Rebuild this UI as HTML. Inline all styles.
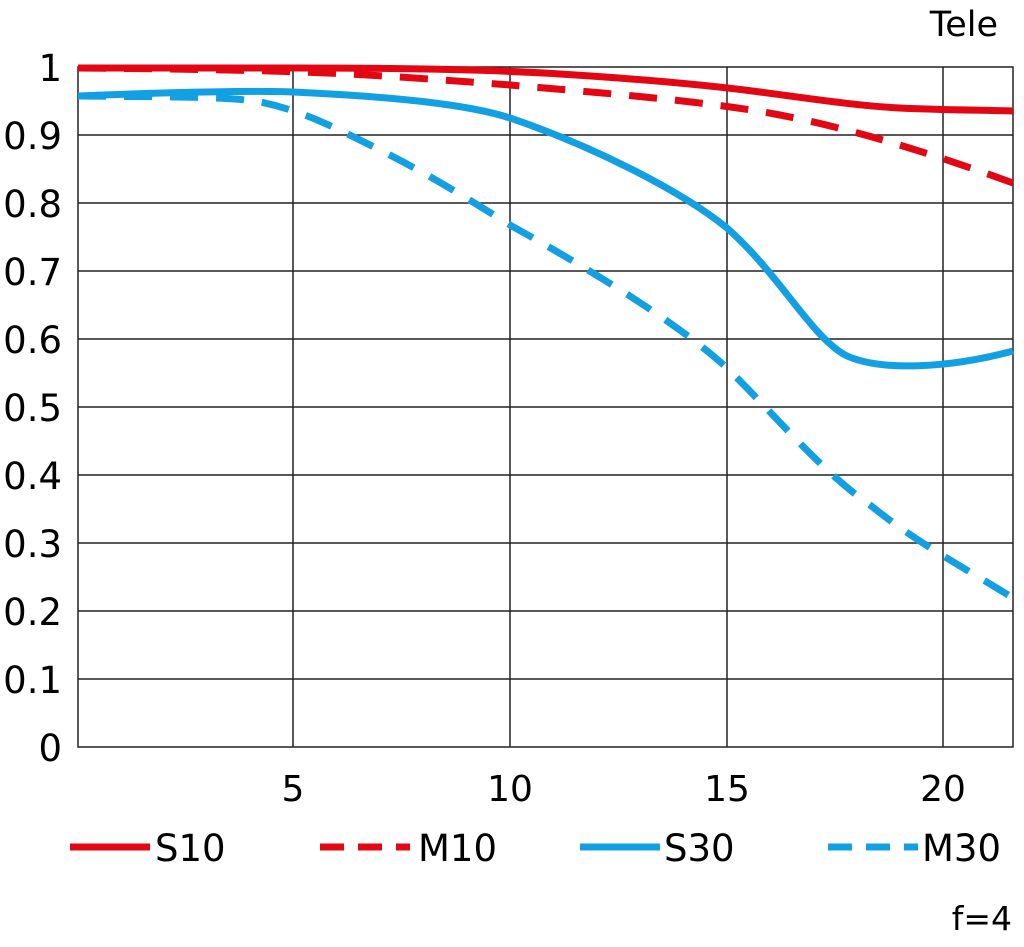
<!DOCTYPE html><html><head><style>body{margin:0;background:#fff}svg{display:block}text{font-family:"DejaVu Sans","Liberation Sans",sans-serif;fill:#000}</style></head><body>
<svg width="1024" height="947" viewBox="0 0 1024 947">
<g stroke="#222" stroke-width="1.5" fill="none">
<rect x="78" y="67" width="935" height="680"/>
<path d="M78 135H1013M78 203H1013M78 271H1013M78 339H1013M78 407H1013M78 475H1013M78 543H1013M78 611H1013M78 679H1013M293 67V747M510 67V747M727 67V747M943 67V747"/>
</g>
<g font-size="37" text-anchor="end">
<text x="62" y="81">1</text><text x="62" y="149">0.9</text><text x="62" y="217">0.8</text><text x="62" y="285">0.7</text><text x="62" y="353">0.6</text><text x="62" y="421">0.5</text><text x="62" y="489">0.4</text><text x="62" y="557">0.3</text><text x="62" y="625">0.2</text><text x="62" y="693">0.1</text><text x="62" y="761">0</text>
</g>
<g font-size="36" text-anchor="middle">
<text x="293" y="801">5</text><text x="510" y="801">10</text><text x="727" y="801">15</text><text x="943" y="801">20</text>
</g>
<text x="998" y="36" font-size="35" text-anchor="end">Tele</text>
<text x="1012" y="930" font-size="33" text-anchor="end">f=4</text>
<g fill="none" stroke-width="7">
<path stroke="#e30613" d="M78 68 L293 68 C400 68 500 70 560 74 C640 79 700 84 760 92 C820 100 860 106 900 108 C940 110 980 110 1013 111"/>
<path stroke="#e30613" stroke-dasharray="28 18" d="M78 68 C200 69 293 71 350 74 C420 78 470 82 510 85 C600 93 700 100 780 115 C860 130 950 160 1013 183"/>
<path stroke="#13a0e3" d="M78 96 C150 93 250 90 293 92 C400 97 470 105 510 118 C590 145 680 190 727 228 C780 275 810 335 845 355 C880 372 950 368 1013 351"/>
<path stroke="#13a0e3" stroke-dasharray="28 18" d="M78 96 C150 97 230 96 260 102 C300 110 330 125 380 150 C430 175 470 200 510 225 C600 275 680 325 727 368 C780 420 820 470 870 505 C920 545 960 565 1013 598"/>
</g>
<g stroke-width="7">
<line x1="70" y1="847" x2="150" y2="847" stroke="#e30613"/>
<line x1="320" y1="847" x2="410" y2="847" stroke="#e30613" stroke-dasharray="24 14"/>
<line x1="580" y1="847" x2="660" y2="847" stroke="#13a0e3"/>
<line x1="828" y1="847" x2="918" y2="847" stroke="#13a0e3" stroke-dasharray="24 14"/>
</g>
<g font-size="37">
<text x="155" y="861">S10</text><text x="418" y="861">M10</text><text x="664" y="861">S30</text><text x="922" y="861">M30</text>
</g>
</svg></body></html>
